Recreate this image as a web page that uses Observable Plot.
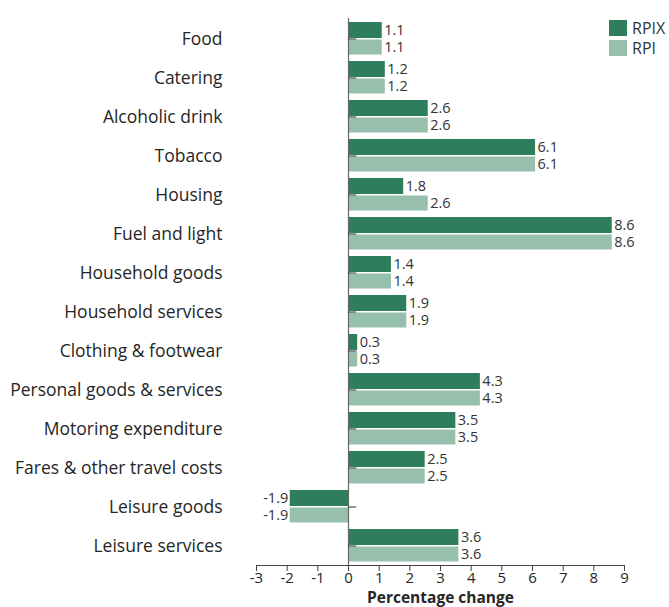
<!DOCTYPE html>
<html>
<head>
<meta charset="utf-8">
<script src="https://cdn.jsdelivr.net/npm/d3@7"></script>
<script src="https://cdn.jsdelivr.net/npm/@observablehq/plot@0.6"></script>
<style>
  body { margin: 0; background: #fff; }
  #wrap { position: relative; width: 669px; height: 607px; }
  #legend { position: absolute; left: 609px; top: 18px; font-family: "Open Sans", sans-serif; font-size: 16px; color: #333; }
  .li { display: flex; align-items: center; height: 20px; }
  .sw { width: 18px; height: 16px; margin-right: 5px; }
</style>
</head>
<body>
<div id="wrap"></div>
<script>
const categories = ["Food","Catering","Alcoholic drink","Tobacco","Housing","Fuel and light","Household goods","Household services","Clothing & footwear","Personal goods & services","Motoring expenditure","Fares & other travel costs","Leisure goods","Leisure services"];
const rpix = [1.1,1.2,2.6,6.1,1.8,8.6,1.4,1.9,0.3,4.3,3.5,2.5,-1.9,3.6];
const rpi  = [1.1,1.2,2.6,6.1,2.6,8.6,1.4,1.9,0.3,4.3,3.5,2.5,-1.9,3.6];
const xTicks = [-3,-2,-1,0,1,2,3,4,5,6,7,8,9];
const seriesNames = ["RPIX","RPI"];
const colors = ["#2e7d5c","#96c0ad"];

const dataX = categories.map((c,i)=>({cat:c, v:rpix[i]}));
const dataI = categories.map((c,i)=>({cat:c, v:rpi[i]}));

const font = "'Open Sans', sans-serif";
const lab = (data, dy) => [
  Plot.text(data.filter(d=>d.v>=0), {x:"v", y:"cat", text:d=>d.v.toFixed(1), dx:2, dy, textAnchor:"start", fontSize:14.5, fill:"#333"}),
  Plot.text(data.filter(d=>d.v<0), {x:"v", y:"cat", text:d=>d.v.toFixed(1), dx:-2, dy, textAnchor:"end", fontSize:14.5, fill:"#333"})
];

const chart = Plot.plot({
  width: 669,
  height: 607,
  marginLeft: 256,
  marginRight: 45,
  marginTop: 18,
  marginBottom: 42,
  style: {fontFamily: font, color: "#262626", background: "#fff"},
  x: {domain: [-3, 9]},
  y: {domain: categories, padding: 0},
  marks: [
    Plot.barX(dataX, {x:"v", y:"cat", fill:colors[0], insetTop:3, insetBottom:20}),
    Plot.barX(dataI, {x:"v", y:"cat", fill:colors[1], insetTop:20.5, insetBottom:3.5}),
    ...lab(dataX, -8.5),
    ...lab(dataI, 8.5),
    Plot.ruleX([0], {stroke:"#666", strokeWidth:1.2}),
    Plot.ruleY(categories, {y:d=>d, x1:0, x2:0.27, stroke:"#333", strokeWidth:1}),
    Plot.frame({anchor:"bottom", stroke:"#444"}),
    Plot.axisX({ticks: xTicks, tickSize:6, tickPadding:1, tickFormat:d=>String(d), fontSize:15, label:null, stroke:"#444"}),
    Plot.axisY({tickSize:0, tickPadding:34, fontSize:17.5, label:null}),
    Plot.text(["Percentage change"], {frameAnchor:"bottom", dy:37, fontSize:15.5, fontWeight:"bold", fill:"#262626"})
  ]
});
const wrap = document.getElementById("wrap");
wrap.appendChild(chart);
const leg = document.createElement("div");
leg.id = "legend";
leg.innerHTML = seriesNames.map((s,i)=>`<div class="li"><span class="sw" style="background:${colors[i]}"></span>${s}</div>`).join("");
wrap.appendChild(leg);
</script>
</body>
</html>
